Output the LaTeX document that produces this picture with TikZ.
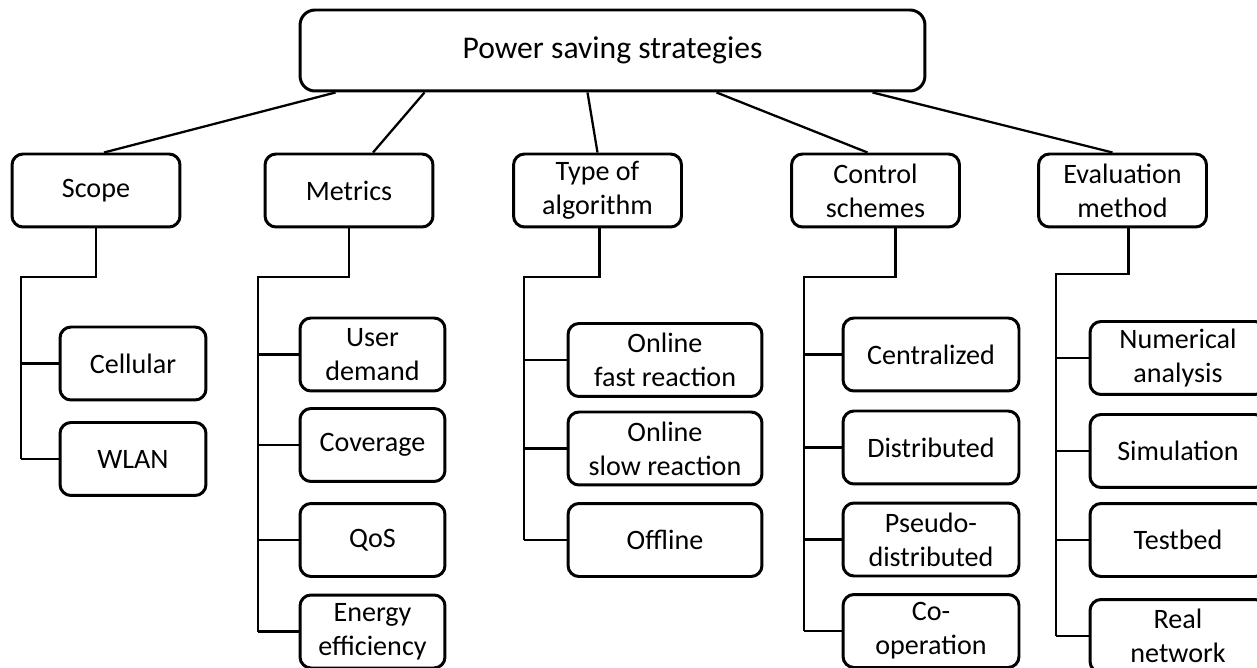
\documentclass[tikz,border=0pt]{standalone}
\usepackage{fontspec}
\setmainfont{Carlito}
\usetikzlibrary{calc}

\begin{document}
\begin{tikzpicture}[x=0.02cm, y=-0.02cm,
		box/.style={draw, line width=1.7pt, rounded corners=0.22cm, align=center, inner sep=0pt,
			minimum height=1.46cm, font=\fontsize{16}{19.5}\selectfont},
		catbox/.style={box, minimum width=3.36cm},
		leafbox/.style={box, minimum width=#1},
		link/.style={line width=1.3pt}]
		\useasboundingbox (0,0) rectangle (1257,668);

		\node[box, minimum width=12.5cm, minimum height=1.62cm, rounded corners=0.3cm,
			font=\fontsize{18}{22}\selectfont] (root) at (612.5,50.5) {Power saving strategies};

		\node[catbox] (scope) at (96,190.5) {Scope};
		\node[catbox] (metrics) at (349,190.5) {Metrics};
		\node[catbox] (type) at (597.5,190.5) {Type of\\algorithm};
		\node[catbox] (control) at (875.5,190.5) {Control\\schemes};
		\node[catbox] (eval) at (1122.5,190.5) {Evaluation\\method};

		\foreach \cat/\from/\to in {scope/-277/8, metrics/-188/24, type/-25/0, control/104/-8, eval/260/-10}
			\draw[link] ($(root.south)+(\from,0)$) -- ($(\cat.north)+(\to,0)$);

		% Scope
		\node[leafbox=2.92cm] (cellular) at (133,363.5) {Cellular};
		\node[leafbox=2.92cm] (wlan) at (133,459) {WLAN};
		\coordinate (scopeelbow) at (21,277);
		\draw[link] (scope.south) |- (scopeelbow) -- (scopeelbow |- wlan.west);
		\foreach \leaf in {cellular,wlan}
			\draw[link] (scopeelbow |- \leaf.west) -- (\leaf.west);

		% Metrics
		\node[leafbox=2.9cm] (user) at (372.5,354.5) {User\\demand};
		\node[leafbox=2.9cm] (coverage) at (372.5,445) {Coverage};
		\node[leafbox=2.9cm] (qos) at (372.5,540) {QoS};
		\node[leafbox=2.9cm] (energy) at (372.5,631.5) {Energy\\efficiency};
		\coordinate (metricselbow) at (258,277);
		\draw[link] (metrics.south) |- (metricselbow) -- (metricselbow |- energy.west);
		\foreach \leaf in {user,coverage,qos,energy}
			\draw[link] (metricselbow |- \leaf.west) -- (\leaf.west);

		% Type of algorithm
		\node[leafbox=3.88cm] (fast) at (665,360) {Online\\fast reaction};
		\node[leafbox=3.88cm] (slow) at (665,448.5) {Online\\slow reaction};
		\node[leafbox=3.88cm] (offline) at (665,540) {Offline};
		\coordinate (typeelbow) at (524,277);
		\draw[link] ($(type.south)+(2,0)$) |- (typeelbow) -- (typeelbow |- offline.west);
		\foreach \leaf in {fast,slow,offline}
			\draw[link] (typeelbow |- \leaf.west) -- (\leaf.west);

		% Control schemes
		\node[leafbox=3.52cm] (central) at (931,354.5) {Centralized};
		\node[leafbox=3.52cm] (distrib) at (931,447.5) {Distributed};
		\node[leafbox=3.52cm] (pseudo) at (931,539.5) {Pseudo-\\distributed};
		\node[leafbox=3.52cm] (coop) at (931,631) {Co-\\operation};
		\coordinate (controlelbow) at (804,277);
		\draw[link] ($(control.south)+(20,0)$) |- (controlelbow) -- (controlelbow |- coop.west);
		\foreach \leaf in {central,distrib,pseudo,coop}
			\draw[link] (controlelbow |- \leaf.west) -- (\leaf.west);

		% Evaluation method
		\node[leafbox=3.52cm] (numeric) at (1178,358) {Numerical\\analysis};
		\node[leafbox=3.52cm] (simul) at (1178,451) {Simulation};
		\node[leafbox=3.52cm] (testbed) at (1178,540) {Testbed};
		\node[leafbox=3.52cm] (real) at (1178,636) {Real\\network};
		\coordinate (evalelbow) at (1056,274);
		\draw[link] ($(eval.south)+(6,0)$) |- (evalelbow) -- (evalelbow |- real.west);
		\foreach \leaf in {numeric,simul,testbed,real}
			\draw[link] (evalelbow |- \leaf.west) -- (\leaf.west);
	\end{tikzpicture}
\end{document}
